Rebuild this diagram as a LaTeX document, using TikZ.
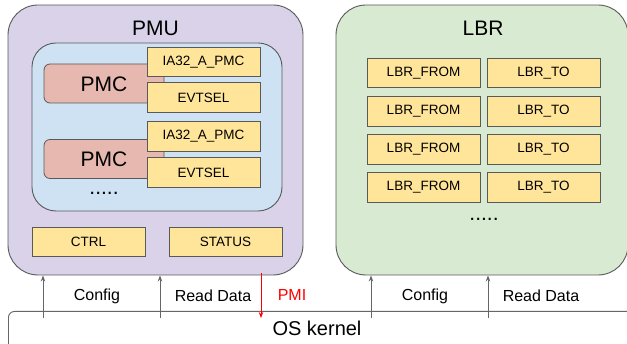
\documentclass[tikz,border=0pt]{standalone}
\usepackage{fontspec}
\setmainfont{Liberation Sans}
\usetikzlibrary{arrows.meta}
\definecolor{pmufill}{HTML}{D9D2E9}
\definecolor{grpfill}{HTML}{CFE2F3}
\definecolor{pmcfill}{HTML}{E6B8AF}
\definecolor{regfill}{HTML}{FFE599}
\definecolor{lbrfill}{HTML}{D9EAD3}
\definecolor{edge}{HTML}{595959}
\definecolor{wire}{HTML}{666666}
\definecolor{pmired}{HTML}{FF0000}
\tikzset{
  outer/.style={draw=edge, line width=0.9pt, rounded corners=30pt, inner sep=0pt},
  group/.style={draw=edge, line width=0.9pt, fill=grpfill, rounded corners=24pt, inner sep=0pt},
  counter/.style={draw=edge, line width=0.8pt, fill=pmcfill, rounded corners=6pt,
    minimum width=120pt, minimum height=39pt, inner sep=0pt},
  reg/.style={draw=edge, line width=0.8pt, fill=regfill, minimum width=113pt,
    minimum height=29.5pt, inner sep=0pt, font=\fontsize{13.5pt}{15pt}\selectfont},
  title/.style={font=\fontsize{21pt}{24pt}\selectfont, inner sep=0pt},
  lbl/.style={font=\fontsize{16pt}{18pt}\selectfont, inner sep=0pt},
  dots/.style={font=\fontsize{21pt}{24pt}\selectfont, inner sep=0pt, anchor=base},
  arr/.style={draw=wire, line width=0.9pt, -{Stealth[length=6pt,width=4.5pt]}},
  pmiarr/.style={draw=pmired, line width=0.9pt, -{Stealth[length=6pt,width=4.5pt]}},
}
\begin{document}
\begin{tikzpicture}[x=1pt, y=-1pt]
\useasboundingbox (0,0) rectangle (627,344);
\clip (0,0) rectangle (627,344);

% OS kernel strip along the bottom
\node[draw=wire, line width=0.9pt, rounded corners=6pt, minimum width=640pt,
  minimum height=60pt, inner sep=0pt, anchor=north west] (os) at (8,311) {};
\node[title, font=\fontsize{20pt}{23pt}\selectfont] (ostext) at (317,328) {OS kernel};

% PMU block
\node[outer, fill=pmufill, minimum width=295pt, minimum height=270pt] (pmu) at (155.5,140) {};
\node[title] (pmutitle) at (155.5,28) {PMU};
\node[group, minimum width=250pt, minimum height=168pt] (grp) at (157,127) {};

\node[counter] (pmc1) at (104,83.5) {};
\node[title] (pmc1t) at (104,84) {PMC};
\node[reg] (ia1) at (203.5,62) {IA32\_A\_PMC};
\node[reg] (ev1) at (203.5,97.5) {EVTSEL};

\node[counter] (pmc2) at (104,159) {};
\node[title] (pmc2t) at (104,159.5) {PMC};
\node[reg] (ia2) at (203.5,136.5) {IA32\_A\_PMC};
\node[reg] (ev2) at (203.5,172.5) {EVTSEL};

\node[dots] (pdots) at (104,194.5) {.....};

\node[reg] (ctrl) at (88.5,242) {CTRL};
\node[reg] (status) at (225.5,242) {STATUS};

% LBR block
\node[outer, fill=lbrfill, minimum width=292pt, minimum height=270pt] (lbr) at (482,140) {};
\node[title] (lbrtitle) at (483,28) {LBR};

\node[reg] (f1) at (423.5,73) {LBR\_FROM};
\node[reg] (t1) at (543.5,73) {LBR\_TO};
\node[reg] (f2) at (423.5,111.5) {LBR\_FROM};
\node[reg] (t2) at (543.5,111.5) {LBR\_TO};
\node[reg] (f3) at (423.5,149.5) {LBR\_FROM};
\node[reg] (t3) at (543.5,149.5) {LBR\_TO};
\node[reg] (f4) at (423.5,187.5) {LBR\_FROM};
\node[reg] (t4) at (543.5,187.5) {LBR\_TO};
\node[dots] (ldots) at (484,221) {.....};

% interface wires between the kernel and the two blocks
\coordinate (pcfg) at (43,318);
\coordinate (prd) at (160,318);
\coordinate (pmi) at (261,273);
\coordinate (lcfg) at (371,318);
\coordinate (lrd) at (488,318);

\draw[arr] (pcfg) -- (pcfg |- pmu.south);
\draw[arr] (prd) -- (prd |- pmu.south);
\draw[pmiarr] (pmi) -- (pmi |- pcfg);
\draw[arr] (lcfg) -- (lcfg |- lbr.south);
\draw[arr] (lrd) -- (lrd |- lbr.south);

\node[lbl] (cfg1) at (97,296) {Config};
\node[lbl] (rd1) at (213,296) {Read Data};
\node[lbl, text=pmired] (pmil) at (292,295) {PMI};
\node[lbl] (cfg2) at (425,296) {Config};
\node[lbl] (rd2) at (541,296) {Read Data};
\end{tikzpicture}
\end{document}
